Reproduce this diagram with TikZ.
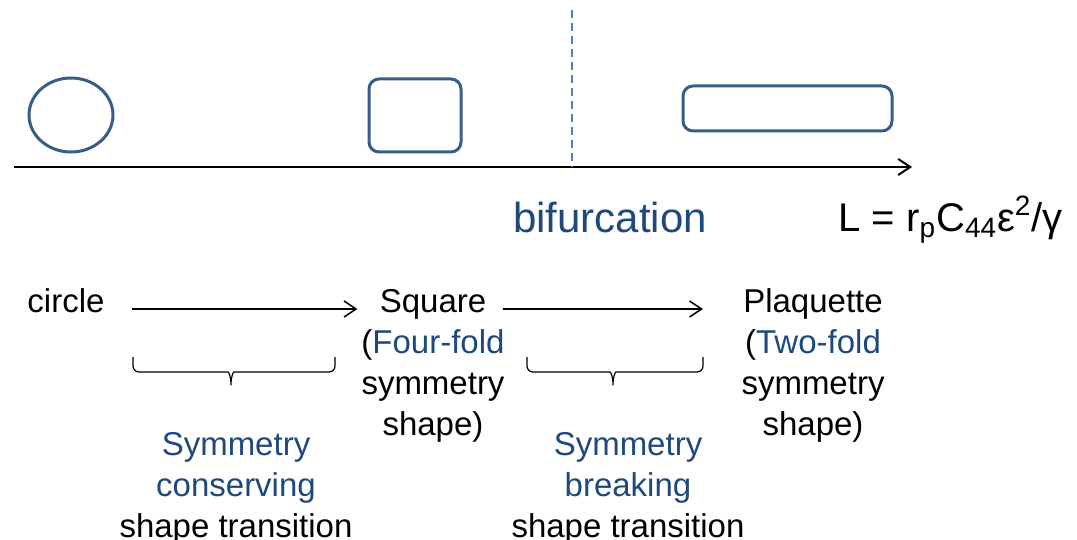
\documentclass[tikz,border=0pt]{standalone}
\usepackage{fontspec}
\setmainfont{Liberation Sans}
\usetikzlibrary{arrows.meta, positioning, shapes.geometric}
\definecolor{shapeblue}{RGB}{56,93,138}
\definecolor{textblue}{RGB}{31,73,125}
\definecolor{dashblue}{RGB}{79,129,189}

\begin{document}
\begin{tikzpicture}[x=0.5pt, y=-0.5pt,
  outline/.style={draw=shapeblue, line width=1.5pt},
  lbl/.style={font=\fontsize{16.5}{20.5}\selectfont, inner sep=0pt, align=center},
  big/.style={font=\fontsize{21}{25}\selectfont, inner sep=0pt},
  arrow/.style={-{Straight Barb[length=6pt,width=8pt]}, line width=0.75pt},
  bracket/.style={line width=0.6pt, rounded corners=3pt},
  node distance=5pt
]
  \path[use as bounding box] (0,0) rectangle (1077,540);

  % shapes along the size axis
  \node[outline, ellipse, minimum width=42pt, minimum height=37pt] (circshape) at (71,115) {};
  \node[outline, rounded corners=5pt, minimum width=46pt, minimum height=36.5pt] (sqshape) at (415,115.5) {};
  \node[outline, rounded corners=5pt, minimum width=104.5pt, minimum height=22.5pt] (plqshape) at (787.5,108.5) {};

  \coordinate (axstart) at (14,167);
  \coordinate (axend) at (912,167);
  \coordinate (biftop) at (572,10);
  \coordinate (bifbot) at (572,167);
  \draw[arrow, line width=1pt] (axstart) -- (axend);
  \draw[dashblue, line width=0.75pt, dash pattern=on 4pt off 2.5pt] (biftop) -- (bifbot);

  \node[big, anchor=base, text=textblue] (bif) at (610,233) {bifurcation};
  \node[big, font=\fontsize{20}{24}\selectfont, anchor=base west] (len) at (838,231)
    {L = r\textsubscript{p}C\textsubscript{44}ε\textsuperscript{2}/γ};

  % transition sequence
  \node[lbl, anchor=base] (circ) at (66,312) {circle};
  \node[lbl, anchor=base] (sq) at (433,312) {Square};
  \node[lbl, anchor=base] (plq) at (813,312) {Plaquette};
  \node[lbl, below=of sq] (sqdesc)
    {(\textcolor{textblue}{Four-fold}\\symmetry\\shape)};
  \node[lbl, below=of plq] (plqdesc)
    {(\textcolor{textblue}{Two-fold}\\symmetry\\shape)};

  \draw[arrow, shorten <=13.5pt, shorten >=11pt]
    ([yshift=1.5pt]circ.base east) -- ([yshift=1.5pt]sq.base west);
  \draw[arrow, shorten <=8pt, shorten >=20pt]
    ([yshift=1.5pt]sq.base east) -- ([yshift=1.5pt]plq.base west);

  \draw[bracket] (133,357) -- (133,372) -- (222,372)
    .. controls (229,372) and (231,378) .. (231,389)
    .. controls (231,378) and (233,372) .. (240,372) -- (335,372) -- (335,357);
  \draw[bracket] (527,357) -- (527,372) -- (604,372)
    .. controls (611,372) and (613,378) .. (613,389)
    .. controls (613,378) and (615,372) .. (622,372) -- (703,372) -- (703,357);

  \node[lbl, anchor=north] (conserve) at (236,432)
    {\textcolor{textblue}{Symmetry}\\\textcolor{textblue}{conserving}\\shape transition};
  \node[lbl, anchor=north] (breaking) at (628,432)
    {\textcolor{textblue}{Symmetry}\\\textcolor{textblue}{breaking}\\shape transition};

\end{tikzpicture}
\end{document}
